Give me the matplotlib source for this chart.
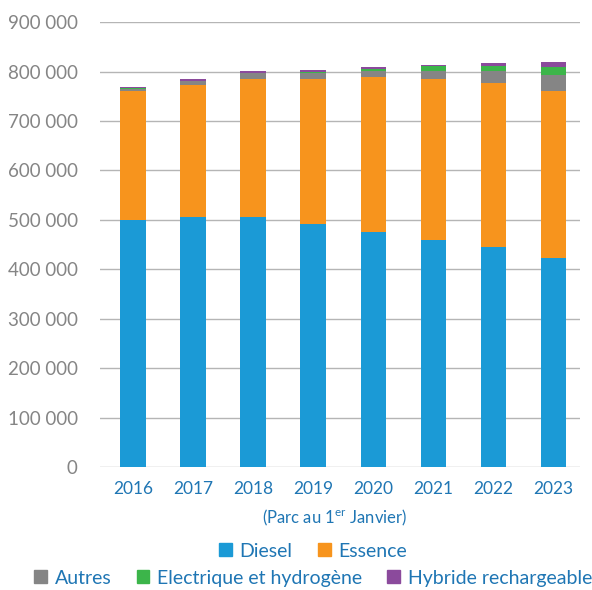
import matplotlib
matplotlib.use("Agg")
import matplotlib.pyplot as plt
import matplotlib.patches as mpatches
import numpy as np

plt.rcParams["font.family"] = ["Lato", "DejaVu Sans"]
plt.rcParams["mathtext.default"] = "regular"

# ── Data (parc au 1er janvier) ─────────────────────────
years = ["2016", "2017", "2018", "2019", "2020", "2021", "2022", "2023"]
diesel = [500000, 505000, 505000, 491000, 475000, 459000, 445000, 423000]
essence = [261000, 267000, 280000, 294000, 314000, 326000, 331000, 337000]
autres = [4000, 8000, 12000, 13000, 12000, 17000, 25000, 34000]
electrique = [1000, 1000, 1000, 2000, 5000, 9000, 11000, 15000]
hybride = [3000, 4000, 3000, 3000, 3000, 2000, 6000, 10000]

series = [diesel, essence, autres, electrique, hybride]
names = ["Diesel", "Essence", "Autres", "Electrique et hydrogène",
         "Hybride rechargeable"]
colors = ["#1b9ad6", "#f7941d", "#858585", "#3cb54a", "#8b4a9c"]

text_grey = "#858585"
text_blue = "#1f76b4"

fig = plt.figure(figsize=(5.92, 5.90), dpi=100)
ax = fig.add_axes([0.169, 0.2085, 0.811, 0.754])

x = np.arange(len(years))
bottom = np.zeros(len(years))
for vals, col in zip(series, colors):
    ax.bar(x, vals, bottom=bottom, width=0.42, color=col, zorder=3)
    bottom += np.array(vals)

ax.set_xlim(-0.55, 7.45)
ax.set_ylim(0, 900000)
ax.set_yticks(np.arange(0, 900001, 100000))
ax.set_yticklabels(["0"] + [f"{v // 1000} 000" for v in range(100000, 900001, 100000)])
ax.set_xticks(x)
ax.set_xticklabels(years)

ax.tick_params(axis="y", length=0, pad=16, labelsize=13.5, labelcolor=text_grey)
ax.tick_params(axis="x", length=0, pad=10, labelsize=12.5, labelcolor=text_blue)

for s in ax.spines.values():
    s.set_visible(False)
ax.grid(axis="y", color="#b5b5b5", linewidth=1.0, zorder=0)

fig.text(0.566, 0.122, "(Parc au 1$^{er}$ Janvier)", ha="center", va="center",
         fontsize=12, color=text_blue)

# ── Legend in two rows ────────────────────────────────
h = [mpatches.Patch(color=c) for c in colors]
opts = dict(loc="center", frameon=False, fontsize=14, handlelength=0.65,
            handleheight=0.65, handletextpad=0.4, columnspacing=1.3,
            labelcolor=text_blue, borderpad=0, borderaxespad=0)
fig.legend(h[:2], names[:2], bbox_to_anchor=(0.529, 0.066), ncol=2, **opts)
fig.legend(h[2:], names[2:], bbox_to_anchor=(0.529, 0.0203), ncol=3, **opts)

fig.savefig("out.png", dpi=100, facecolor="white")
